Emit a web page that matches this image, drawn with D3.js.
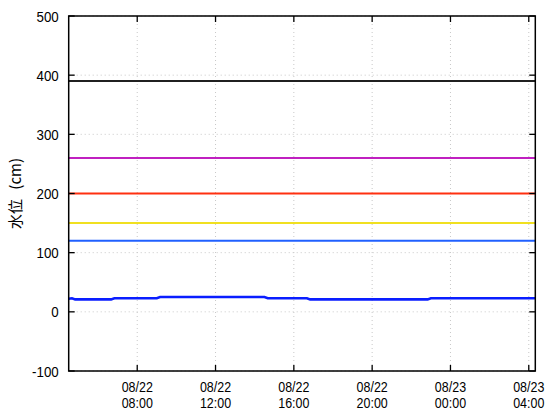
<!DOCTYPE html>
<html><head><meta charset="utf-8">
<script src="https://cdn.jsdelivr.net/npm/d3@7"></script>
<style>
body{margin:0;background:#fff;}
text{font-family:"Liberation Sans",Arial,sans-serif;}
</style></head>
<body><svg id="c" width="560" height="420"></svg>
<script>
const levelTimes = ["2023-08-22T04:30","2023-08-22T04:40","2023-08-22T04:50","2023-08-22T06:40","2023-08-22T06:50","2023-08-22T09:00","2023-08-22T09:10","2023-08-22T14:30","2023-08-22T14:40","2023-08-22T16:40","2023-08-22T16:50","2023-08-22T22:50","2023-08-22T23:00","2023-08-23T04:20"];
const levelValues = [22,23,21,21,23,23,25,25,23,23,21,21,23,23];
const thresholdValues = [390,260,200,150,120];
const thresholdColors = ["#202020","#c020c0","#ff3010","#f0e020","#2060ff"];
const yTicks = [-100,0,100,200,300,400,500];
const xTickTimes = ["2023-08-22T08:00","2023-08-22T12:00","2023-08-22T16:00","2023-08-22T20:00","2023-08-23T00:00","2023-08-23T04:00"];
const xTickLabels = [["08/22","08:00"],["08/22","12:00"],["08/22","16:00"],["08/22","20:00"],["08/23","00:00"],["08/23","04:00"]];
const yLabel = "水位 (cm)";

const svg = d3.select("#c");
const L=68.7,R=535.3,T=16,B=371;
const parse = s=>new Date(s);
const x = d3.scaleTime().domain([parse("2023-08-22T04:30"),parse("2023-08-23T04:20")]).range([L,R]);
const y = d3.scaleLinear().domain([-100,500]).range([B,T]);
const FS = 14.5, SX = 0.86;

// grid
const g = svg.append("g");
xTickTimes.forEach(t=>{
  g.append("line").attr("x1",x(parse(t))).attr("x2",x(parse(t))).attr("y1",T).attr("y2",B)
   .attr("stroke","#c8c8c8").attr("stroke-dasharray","1,3");
});
yTicks.forEach(v=>{
  g.append("line").attr("x1",L).attr("x2",R).attr("y1",y(v)).attr("y2",y(v))
   .attr("stroke","#c8c8c8").attr("stroke-dasharray","1,3");
});

// thresholds
thresholdValues.forEach((v,i)=>{
  svg.append("line").attr("x1",L).attr("x2",R).attr("y1",y(v)).attr("y2",y(v))
    .attr("stroke",thresholdColors[i]).attr("stroke-width",2);
});

// level line
const data = levelTimes.map((t,i)=>({t:parse(t),v:levelValues[i]}));
svg.append("path").datum(data)
  .attr("d",d3.line().x(d=>x(d.t)).y(d=>y(d.v)))
  .attr("fill","none").attr("stroke","#0a1eff").attr("stroke-width",2.6);

// frame
svg.append("rect").attr("x",L).attr("y",T).attr("width",R-L).attr("height",B-T)
  .attr("fill","none").attr("stroke","#000").attr("stroke-width",1.5);

// ticks
yTicks.forEach(v=>{
  svg.append("line").attr("x1",L).attr("x2",L+6).attr("y1",y(v)).attr("y2",y(v)).attr("stroke","#000").attr("stroke-width",1.3);
  svg.append("line").attr("x1",R-6).attr("x2",R).attr("y1",y(v)).attr("y2",y(v)).attr("stroke","#000").attr("stroke-width",1.3);
  svg.append("text").attr("transform",`translate(${L-10},${y(v)}) scale(${SX},1)`).attr("dy","0.36em").attr("text-anchor","end")
    .attr("font-size",15.5).attr("fill","#000").text(v);
});
xTickTimes.forEach((t,i)=>{
  const xx=x(parse(t));
  svg.append("line").attr("x1",xx).attr("x2",xx).attr("y1",B).attr("y2",B-6).attr("stroke","#000").attr("stroke-width",1.3);
  svg.append("line").attr("x1",xx).attr("x2",xx).attr("y1",T).attr("y2",T+6).attr("stroke","#000").attr("stroke-width",1.3);
  svg.append("text").attr("transform",`translate(${xx},392) scale(${SX},1)`).attr("text-anchor","middle").attr("font-size",FS).text(xTickLabels[i][0]);
  svg.append("text").attr("transform",`translate(${xx},408) scale(${SX},1)`).attr("text-anchor","middle").attr("font-size",FS).text(xTickLabels[i][1]);
});

svg.append("text").attr("transform",`translate(21,${(T+B)/2}) rotate(-90)`).attr("text-anchor","middle")
  .attr("font-size",15).attr("word-spacing",6).style("font-family","'Noto Sans CJK JP',sans-serif").text(yLabel);
</script></body></html>
